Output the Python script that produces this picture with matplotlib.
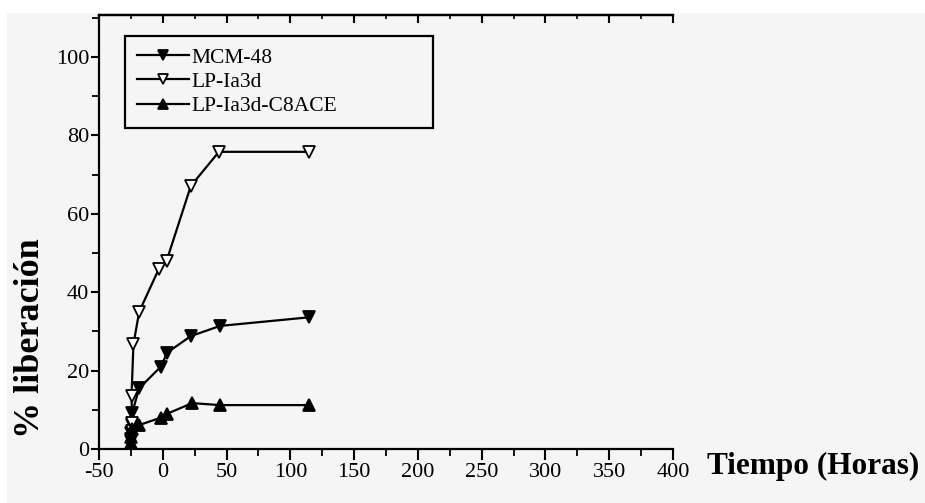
import matplotlib

matplotlib.use("Agg")
import matplotlib.pyplot as plt
from matplotlib.patches import Rectangle
from matplotlib.ticker import MultipleLocator

# time (h) and % released
t_mcm = [-25, -25, -24.5, -24, -18.5, -1.5, 3.5, 22, 45, 115]
y_mcm = [2.0, 4.0, 6.0, 9.2, 15.5, 21.0, 24.6, 28.8, 31.4, 33.6]

t_lp = [-25, -24.5, -24, -24.5, -23, -18.5, -3, 3, 22, 44, 115]
y_lp = [2.5, 4.5, 6.6, 13.6, 26.7, 35.0, 46.0, 48.0, 67.1, 75.8, 75.8]

t_c8 = [-25, -25, -24.5, -18.5, -1.5, 3.5, 23, 45, 115]
y_c8 = [1.5, 3.0, 5.0, 6.1, 8.0, 9.0, 11.7, 11.2, 11.2]

labels = ["MCM-48", "LP-Ia3d", "LP-Ia3d-C8ACE"]

BG = "#f5f5f5"

plt.rcParams["font.family"] = ["Liberation Serif", "DejaVu Serif"]
plt.rcParams["axes.unicode_minus"] = False

fig = plt.figure(figsize=(9.25, 5.03), dpi=100)
fig.patch.set_facecolor("white")
fig.patches.append(Rectangle((7 / 925, 0), 1, 1 - 13 / 503, transform=fig.transFigure,
                             facecolor=BG, edgecolor="none", zorder=-10))

ax = fig.add_axes([99 / 925, 1 - 449 / 503, (673 - 99) / 925, (449 - 15) / 503])
ax.set_facecolor(BG)

kw = dict(color="black", linewidth=1.6, markersize=8.5, markeredgewidth=1.3)
ax.plot(t_mcm, y_mcm, marker="v", markerfacecolor="black", label=labels[0], **kw)
ax.plot(t_lp, y_lp, marker="v", markerfacecolor="white", label=labels[1], **kw)
ax.plot(t_c8, y_c8, marker="^", markerfacecolor="black", label=labels[2], **kw)

ax.set_xlim(-50, 400)
ax.set_ylim(0, 110.7)
ax.xaxis.set_major_locator(MultipleLocator(50))
ax.xaxis.set_minor_locator(MultipleLocator(25))
ax.yaxis.set_major_locator(MultipleLocator(20))
ax.yaxis.set_minor_locator(MultipleLocator(10))

ax.spines["right"].set_visible(False)
for side in ("left", "bottom", "top"):
    ax.spines[side].set_linewidth(1.6)

ax.tick_params(axis="x", which="major", direction="out", length=8, width=1.5,
               labelsize=16, pad=2)
ax.tick_params(axis="x", which="minor", direction="out", length=5, width=1.3)
ax.tick_params(axis="y", which="major", direction="out", length=6, width=1.5,
               labelsize=16, pad=1)
ax.tick_params(axis="y", which="minor", direction="out", length=5, width=1.3)

top = ax.secondary_xaxis("top")
top.xaxis.set_major_locator(MultipleLocator(50))
top.xaxis.set_minor_locator(MultipleLocator(25))
top.tick_params(which="major", direction="in", length=6, width=1.5, labeltop=False)
top.tick_params(which="minor", direction="in", length=3, width=1.2)
top.spines["top"].set_linewidth(1.6)

ax.set_xlabel("Tiempo (Horas)", fontsize=22.5, fontweight="bold", ha="left", va="center")
ax.xaxis.set_label_coords(1.06, -0.04)
ax.set_ylabel("% liberación", fontsize=26, fontweight="bold", va="center")
ax.yaxis.set_label_coords(-0.12, 0.255)

leg = ax.legend(loc="upper left", bbox_to_anchor=(26 / 574, 1 - 25 / 434, 308 / 574, 0.01),
                mode="expand", fontsize=15.5, handlelength=2.4, handletextpad=0.15,
                labelspacing=0.2, borderpad=0.55, borderaxespad=0, fancybox=False,
                framealpha=1, markerscale=0.85)
leg.get_frame().set_edgecolor("black")
leg.get_frame().set_linewidth(1.6)
leg.get_frame().set_facecolor(BG)

fig.savefig("out.png", dpi=100, facecolor=fig.get_facecolor())
